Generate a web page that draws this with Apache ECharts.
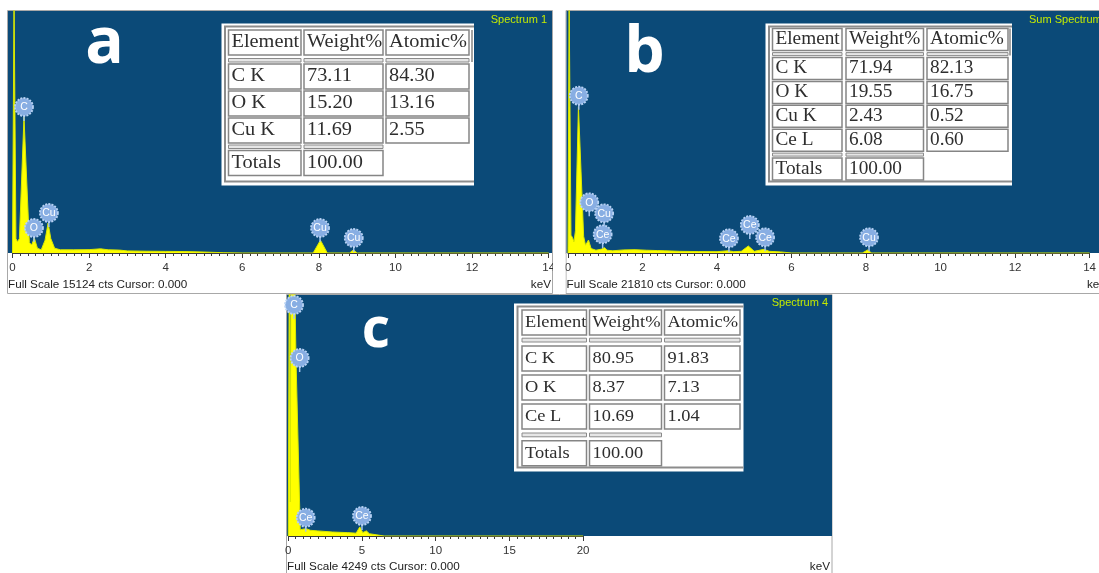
<!DOCTYPE html>
<html>
<head>
<meta charset="utf-8">
<script src="https://cdn.jsdelivr.net/npm/echarts@6/dist/echarts.min.js"></script>
<style>
html, body { margin: 0; padding: 0; background: #fff; }
#eds { width: 1099px; height: 573px; }
</style>
</head>
<body>
<div id="eds"></div>
<script>
// ---- spectra: [keV, counts] ----
const fullScaleA = 15124;
const fullScaleB = 21810;
const fullScaleC = 4249;

const spectrumA = [[0, 0], [0.02, 0], [0.04, 16000], [0.07, 16000], [0.09, 900], [0.13, 700], [0.18, 900],
  [0.3, 8500], [0.34, 8500], [0.44, 650], [0.5, 500], [0.57, 940], [0.65, 300], [0.75, 200], [0.85, 800],
  [0.93, 1870], [1.0, 900], [1.1, 300], [1.25, 200], [1.6, 200], [2.0, 210], [2.3, 260], [2.5, 200],
  [2.8, 180], [3.0, 130], [3.5, 110], [4.0, 100], [4.5, 90], [5.0, 60], [5.5, 20], [6, 0], [7.85, 0],
  [8.04, 800], [8.22, 0], [8.8, 0], [8.9, 190], [9.0, 0], [14, 0]];

const spectrumB = [[0, 0], [0.01, 0], [0.03, 23000], [0.06, 23000], [0.08, 1600], [0.12, 1400], [0.16, 1000],
  [0.2, 2000], [0.28, 13185], [0.32, 13185], [0.42, 1500], [0.47, 700], [0.55, 1170], [0.62, 400],
  [0.75, 250], [0.9, 350], [0.98, 480], [1.05, 250], [1.2, 200], [1.5, 280], [1.8, 300], [2.1, 250],
  [2.4, 220], [2.6, 200], [3, 150], [3.5, 130], [4.0, 120], [4.3, 200], [4.45, 120], [4.65, 150],
  [4.84, 630], [5.0, 150], [5.26, 330], [5.4, 150], [5.7, 100], [6, 0], [7.9, 0], [8.04, 270], [8.15, 0], [14, 0]];

const spectrumC = [[0, 0], [0.04, 0], [0.07, 5000], [0.11, 5000], [0.14, 600], [0.18, 5000], [0.39, 5000],
  [0.45, 4300], [0.52, 3150], [0.81, 110], [1.0, 120], [1.2, 130], [1.5, 100], [2.0, 90], [3.0, 70],
  [4.0, 60], [4.6, 50], [4.85, 160], [5.05, 60], [5.3, 90], [5.5, 40], [6.0, 20], [6.5, 0], [20, 0]];

// ---- element markers ----
const markerNamesA = ['C', 'O', 'Cu', 'Cu', 'Cu'];
const markerKevA = [0.30, 0.56, 0.95, 8.03, 8.91];
const markerCtsA = [9124, 1562, 2500, 1562, 937];

const markerNamesB = ['C', 'O', 'Cu', 'Ce', 'Ce', 'Ce', 'Ce', 'Cu'];
const markerKevB = [0.29, 0.57, 0.97, 0.93, 4.32, 4.88, 5.29, 8.08];
const markerCtsB = [14176, 4569, 3578, 1685, 1325, 2523, 1415, 1415];

const markerNamesC = ['C', 'O', 'Ce', 'Ce'];
const markerKevC = [0.39, 0.77, 1.18, 5.0];
const markerCtsC = [4073, 3138, 323, 353];

// ---- quantification tables ----
const tableHeader = ['Element', 'Weight%', 'Atomic%'];
const elementsA = ['C K', 'O K', 'Cu K'];
const weightA = [73.11, 15.20, 11.69];
const atomicA = [84.30, 13.16, 2.55];

const elementsB = ['C K', 'O K', 'Cu K', 'Ce L'];
const weightB = [71.94, 19.55, 2.43, 6.08];
const atomicB = [82.13, 16.75, 0.52, 0.60];

const elementsC = ['C K', 'O K', 'Ce L'];
const weightC = [80.95, 8.37, 10.69];
const atomicC = [91.83, 7.13, 1.04];

const totalWeight = 100.00;

// ---- layout ----
const BLUE = '#0b4a78';
const layoutA = { box: [221.5, 23.5, 474, 185.5], cols: [[228.5, 301], [304, 383], [386, 469]], stub: 472,
  headerTop: 30, rowTop: 64, rowH: 25, pitch: 27, sepH: 3.5, font: 19 };
const layoutB = { box: [765.5, 23.5, 1012, 185.5], cols: [[772.5, 842], [846, 923.5], [927, 1008]], stub: 1010,
  headerTop: 28.5, rowTop: 57.5, rowH: 22, pitch: 23.9, sepH: 3, font: 18 };
const layoutC = { box: [514, 303.5, 743.5, 471.5], cols: [[522, 586.5], [589.5, 661.5], [664.5, 740]], stub: null,
  headerTop: 310, rowTop: 346, rowH: 25, pitch: 29, sepH: 3.8, font: 17.2 };

function tableElements(L, elements, weight, atomic) {
  const out = [];
  const [bx0, by0, bx1, by1] = L.box;
  const gap = L.pitch - L.rowH;
  out.push({ type: 'rect', z: 20, shape: { x: bx0, y: by0, width: bx1 - bx0, height: by1 - by0 }, style: { fill: '#fff' } });
  out.push({ type: 'polyline', z: 21,
    shape: { points: [[bx1, by0 + 3], [bx0 + 3.5, by0 + 3], [bx0 + 3.5, by1 - 4], [bx1, by1 - 4]] },
    style: { stroke: '#8c8c8c', lineWidth: 2, fill: null } });
  const cell = (col, y0, h, text) => {
    out.push({ type: 'rect', z: 22, shape: { x: col[0], y: y0, width: col[1] - col[0], height: h },
      style: { fill: '#fff', stroke: '#858585', lineWidth: 1.5 } });
    if (text != null) {
      out.push({ type: 'text', z: 23, x: col[0] + 3, y: y0 + h / 2, scaleX: 1.07,
        style: { text: text, x: 0, y: 0,
          textAlign: 'left', textVerticalAlign: 'middle', align: 'left', verticalAlign: 'middle',
          fill: '#2e2e2e', font: L.font + 'px "Liberation Serif"' } });
    }
  };
  const sep = (col, y0) => out.push({ type: 'rect', z: 22, shape: { x: col[0], y: y0, width: col[1] - col[0], height: L.sepH },
    style: { fill: '#e6e6e6', stroke: '#8a8a8a', lineWidth: 1 } });

  tableHeader.forEach((h, c) => cell(L.cols[c], L.headerTop, L.rowH, h));
  const sep1 = L.rowTop - gap - L.sepH;
  L.cols.forEach(col => sep(col, sep1));
  if (L.stub) {
    out.push({ type: 'line', z: 22, shape: { x1: L.stub, y1: L.headerTop, x2: L.stub, y2: sep1 + L.sepH },
      style: { stroke: '#858585', lineWidth: 1.5 } });
  }
  elements.forEach((el, r) => {
    const y0 = L.rowTop + r * L.pitch;
    cell(L.cols[0], y0, L.rowH, el);
    cell(L.cols[1], y0, L.rowH, weight[r].toFixed(2));
    cell(L.cols[2], y0, L.rowH, atomic[r].toFixed(2));
  });
  const sep2 = L.rowTop + elements.length * L.pitch;
  sep(L.cols[0], sep2);
  sep(L.cols[1], sep2);
  const totTop = sep2 + L.sepH + gap;
  cell(L.cols[0], totTop, L.rowH, 'Totals');
  cell(L.cols[1], totTop, L.rowH, totalWeight.toFixed(2));
  return out;
}

function txt(text, x, y, size, color, align) {
  return { type: 'text', z: 25, style: { text: text, x: x, y: y, fill: color,
    textAlign: align, align: align, textVerticalAlign: 'middle', verticalAlign: 'middle',
    font: size + 'px "Liberation Sans"' } };
}

function letter(ch, x, y, size) {
  return { type: 'text', z: 25, style: { text: ch, x: x, y: y, fill: '#fff', textAlign: 'center', align: 'center',
    textVerticalAlign: 'middle', verticalAlign: 'middle', font: 'bold ' + size + 'px "Open Sans"' } };
}

function bg(x0, y0, x1, y1) {
  return { type: 'rect', z: -10, shape: { x: x0, y: y0, width: x1 - x0, height: y1 - y0 }, style: { fill: BLUE } };
}
function frame(x0, y0, x1, y1) {
  return { type: 'rect', z: -11, shape: { x: x0, y: y0, width: x1 - x0, height: y1 - y0 },
    style: { fill: '#fff', stroke: '#a8a8a8', lineWidth: 1 } };
}

function xAxisOf(idx, max, interval) {
  return { type: 'value', gridIndex: idx, min: 0, max: max, interval: interval,
    axisLine: { show: true, lineStyle: { color: '#3a3a3a', width: 1 } },
    axisTick: { show: true, length: 5, lineStyle: { color: '#3a3a3a' } },
    minorTick: { show: true, splitNumber: 10, length: 3, lineStyle: { color: '#3a3a3a' } },
    splitLine: { show: false },
    axisLabel: { color: '#333', fontSize: 11.5, fontFamily: 'Liberation Sans', margin: 9 } };
}
function yAxisOf(idx, max) {
  return { type: 'value', gridIndex: idx, min: 0, max: max, show: false };
}

function spectrumSeries(idx, data) {
  return { type: 'line', xAxisIndex: idx, yAxisIndex: idx, data: data, symbol: 'none', z: 3,
    lineStyle: { color: '#d9e800', width: 1 }, areaStyle: { color: '#ffff00', opacity: 1 } };
}

function markerSeries(idx, names, kev, cts) {
  return { type: 'custom', xAxisIndex: idx, yAxisIndex: idx, z: 6,
    data: kev.map((k, i) => [k, cts[i]]),
    renderItem: function (params, api) {
      const p = api.coord([api.value(0), api.value(1)]);
      return { type: 'group', children: [
        { type: 'line', shape: { x1: p[0], y1: p[1] + 8, x2: p[0], y2: p[1] + 14 }, style: { stroke: '#a4c4ee', lineWidth: 1.5 } },
        { type: 'circle', shape: { cx: p[0], cy: p[1], r: 9 }, style: { fill: '#88aee3', stroke: '#b8d2f4', lineWidth: 1.8, lineDash: [2, 1.2] } },
        { type: 'text', style: { text: names[params.dataIndex], x: p[0], y: p[1] + 0.5, fill: '#fff',
          textAlign: 'center', align: 'center', textVerticalAlign: 'middle', verticalAlign: 'middle',
          font: '10.5px "Liberation Sans"' } }
      ] };
    } };
}

const chart = echarts.init(document.getElementById('eds'));

const graphics = [].concat(
  [frame(7.5, 10.5, 552.5, 293.5), frame(566, 10.5, 1100, 293.5), frame(286.5, 294.5, 832, 580)],
  [bg(8, 11, 552, 253), bg(566.5, 11, 1099, 253), bg(287, 295, 832, 536)],
  tableElements(layoutA, elementsA, weightA, atomicA),
  tableElements(layoutB, elementsB, weightB, atomicB),
  tableElements(layoutC, elementsC, weightC, atomicC),
  [
    { type: 'rect', z: 30, shape: { x: 553, y: 254, width: 12.5, height: 39 }, style: { fill: '#fff' } },
    letter('a', 104.5, 44.8, 64),
    letter('b', 644.5, 53.5, 64),
    letter('c', 376, 331, 55),
    txt('Spectrum 1', 547, 20, 11, '#c4ea00', 'right'),
    txt('Sum Spectrum', 1029, 20, 11, '#c4ea00', 'left'),
    txt('Spectrum 4', 828, 302.5, 11, '#c4ea00', 'right'),
    txt('Full Scale ' + fullScaleA + ' cts Cursor: 0.000', 8, 285, 11.7, '#222', 'left'),
    txt('Full Scale ' + fullScaleB + ' cts Cursor: 0.000', 566.5, 285, 11.7, '#222', 'left'),
    txt('Full Scale ' + fullScaleC + ' cts Cursor: 0.000', 287, 567, 11.7, '#222', 'left'),
    txt('keV', 551, 285, 11.7, '#222', 'right'),
    txt('keV', 1087, 285, 11.7, '#222', 'left'),
    txt('keV', 830, 567, 11.7, '#222', 'right')
  ]
);

const option = {
  animation: false,
  grid: [
    { left: 12.5, top: 11, width: 14 * 38.3, height: 242 },
    { left: 568, top: 11, width: 14 * 38.33, height: 242 },
    { left: 288.3, top: 295, width: 20 * 14.74, height: 241 }
  ],
  xAxis: [xAxisOf(0, 14, 2), xAxisOf(1, 14, 2), xAxisOf(2, 20, 5)],
  yAxis: [yAxisOf(0, fullScaleA), yAxisOf(1, fullScaleB), yAxisOf(2, fullScaleC)],
  series: [
    spectrumSeries(0, spectrumA),
    spectrumSeries(1, spectrumB),
    spectrumSeries(2, spectrumC),
    markerSeries(0, markerNamesA, markerKevA, markerCtsA),
    markerSeries(1, markerNamesB, markerKevB, markerCtsB),
    markerSeries(2, markerNamesC, markerKevC, markerCtsC)
  ],
  graphic: { elements: graphics }
};

chart.setOption(option);
</script>
</body>
</html>
